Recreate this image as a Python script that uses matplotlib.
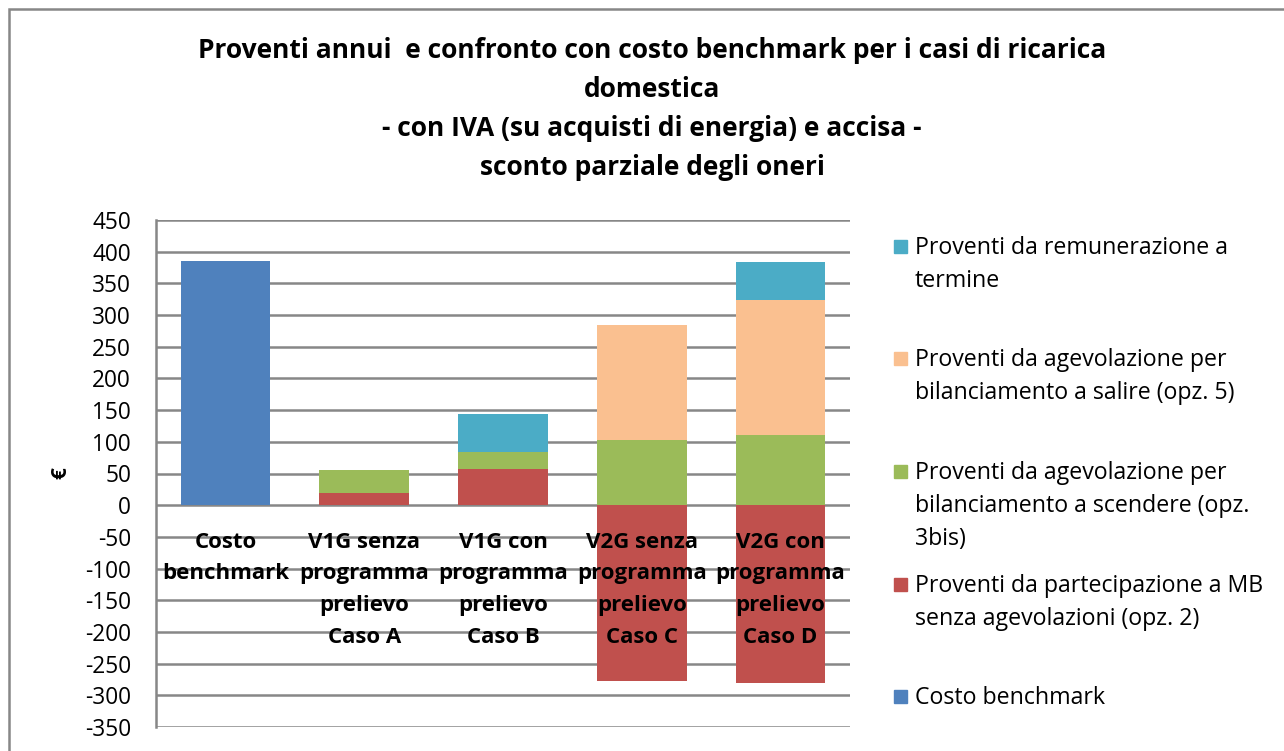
import matplotlib
matplotlib.use("Agg")
import matplotlib.pyplot as plt
from matplotlib.patches import Rectangle
import numpy as np

plt.rcParams['font.family'] = ['Open Sans', 'DejaVu Sans']
plt.rcParams['axes.unicode_minus'] = False

# Data
categories = ["Costo\nbenchmark",
              "V1G senza\nprogramma\nprelievo\nCaso A",
              "V1G con\nprogramma\nprelievo\nCaso B",
              "V2G senza\nprogramma\nprelievo\nCaso C",
              "V2G con\nprogramma\nprelievo\nCaso D"]
costo_benchmark = [386, 0, 0, 0, 0]
mb_opz2 = [0, 19, 57, -277, -281]
scendere_opz3bis = [0, 36, 27, 103, 111]
salire_opz5 = [0, 0, 0, 181, 213]
remunerazione = [0, 0, 60, 0, 60]

series_labels = ["Costo benchmark",
                 "Proventi da partecipazione a MB\nsenza agevolazioni (opz. 2)",
                 "Proventi da agevolazione per\nbilanciamento a scendere (opz.\n3bis)",
                 "Proventi da agevolazione per\nbilanciamento a salire (opz. 5)",
                 "Proventi da remunerazione a\ntermine"]
colors = ["#4F81BD", "#C0504D", "#9BBB59", "#FAC090", "#4BACC6"]

W, H = 1284, 751
fig = plt.figure(figsize=(W / 100, H / 100), dpi=100)
ax = fig.add_axes([156 / W, 1 - 727 / H, (850 - 156) / W, (727 - 220) / H])

x = np.arange(len(categories))
width = 0.645

ax.bar(x, costo_benchmark, width, color=colors[0], zorder=2)
# positive stacks sit on top of the positive MB part, negative MB goes down from 0
pos_mb = np.clip(mb_opz2, 0, None)
ax.bar(x, mb_opz2, width, color=colors[1], zorder=2)
bottom = pos_mb.astype(float)
for vals, col in [(scendere_opz3bis, colors[2]), (salire_opz5, colors[3]), (remunerazione, colors[4])]:
    ax.bar(x, vals, width, bottom=bottom, color=col, zorder=2)
    bottom = bottom + np.array(vals)

ax.set_xlim(-0.5, len(categories) - 0.5)
ax.set_ylim(-350, 450)
ax.set_yticks(np.arange(-350, 451, 50))
ax.tick_params(axis='y', labelsize=16.3, length=0, pad=18)
ax.set_xticks([])
ax.yaxis.grid(True, color="#878787", linewidth=1.8, zorder=1)
ax.set_axisbelow(True)
for side in ["top", "right", "bottom"]:
    ax.spines[side].set_visible(False)
ax.spines["left"].set_color("#878787")
ax.spines["left"].set_linewidth(1.8)

# category labels sit right under the zero line, over the bars
for xi, lab in zip(x, categories):
    ax.annotate(lab, (xi, 0), xytext=(0, -19), textcoords="offset points",
                ha="center", va="top", fontsize=16, fontweight="bold",
                linespacing=1.68, zorder=5)

fig.text(61 / W, 1 - 473 / H, "€", rotation=90, ha="center", va="center",
         fontsize=15, fontweight="bold")

fig.text(652 / W, 1 - 109 / H,
         "Proventi annui  e confronto con costo benchmark per i casi di ricarica\n"
         "domestica\n- con IVA (su acquisti di energia) e accisa -\n"
         "sconto parziale degli oneri",
         ha="center", va="center", fontsize=19, fontweight="bold", linespacing=1.58)

# legend drawn by hand, squares aligned with the first text line
legend_y = [247, 359, 472, 585, 697]
order = [4, 3, 2, 1, 0]
for yy, i in zip(legend_y, order):
    fig.patches.append(Rectangle((894 / W, 1 - (yy + 6) / H), 13 / W, 13 / H,
                                 transform=fig.transFigure, color=colors[i]))
    fig.text(915 / W, 1 - (yy - 11) / H, series_labels[i], ha="left", va="top",
             multialignment="left", fontsize=16.7, linespacing=1.5)

# outer chart border
fig.patches.append(Rectangle((9 / W, -0.02), 1.1, 1 - 9 / H + 0.02,
                             transform=fig.transFigure, fill=False,
                             edgecolor="#878787", linewidth=1.8))

fig.savefig("out.png", dpi=100)
